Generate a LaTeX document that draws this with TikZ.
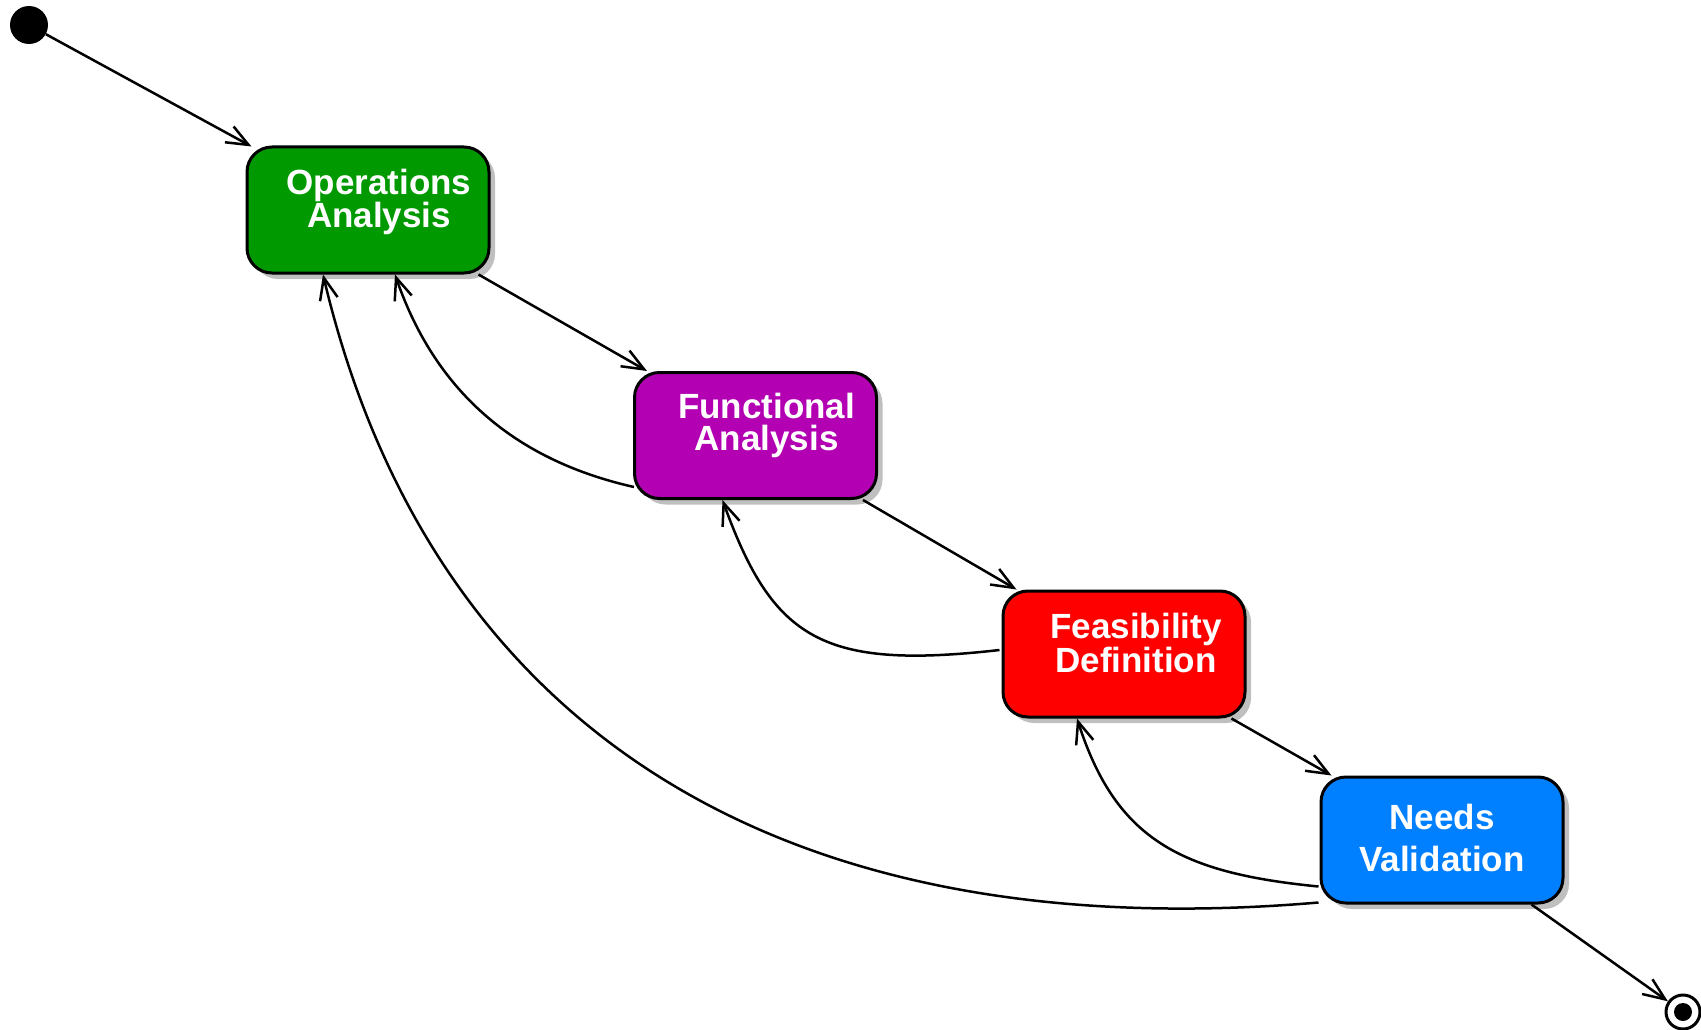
\documentclass[tikz,border=0pt]{standalone}
\usepackage{fontspec}
\setmainfont{Liberation Sans}
\usetikzlibrary{arrows.meta,shadows}

\definecolor{opgreen}{HTML}{009900}
\definecolor{fnpurple}{HTML}{B200B2}
\definecolor{fsred}{HTML}{FF0000}
\definecolor{nvblue}{HTML}{0080FF}

\begin{document}
\begin{tikzpicture}[x=1pt,y=-1pt,
  phase/.style={draw=black, line width=3pt, rounded corners=25pt,
    minimum width=242pt, minimum height=126pt, inner sep=0pt,
    drop shadow={shadow xshift=6pt, shadow yshift=-6pt, fill=black!25, opacity=1}},
  phasetext/.style={text=white, align=center, inner sep=0pt,
    font=\fontsize{35}{32}\selectfont\bfseries},
  flow/.style={line width=2.5pt, -{Straight Barb[length=22pt,width=18pt,line width=2.5pt]}},
  startdot/.style={circle, fill=black, minimum size=38pt, inner sep=0pt},
  enddot/.style={circle, draw=black, fill=white, line width=3pt, minimum size=34pt, inner sep=0pt,
    path picture={\fill[black] (path picture bounding box.center) circle (9pt);}}
]
\useasboundingbox (0,0) rectangle (1701,1030);

% initial and final states
\node[startdot] (s) at (29,25) {};
\node[enddot] (e) at (1683,1012) {};

% phases
\node[phase, fill=opgreen]  (b1) at (368,210) {};
\node[phase, fill=fnpurple] (b2) at (755.5,435.5) {};
\node[phase, fill=fsred]    (b3) at (1124,654) {};
\node[phase, fill=nvblue]   (b4) at (1442,840) {};

\node[phasetext] (t1) at ([shift={(11,-8)}]b1.center) {Operations\\Analysis};
\node[phasetext] (t2) at ([shift={(11,-10)}]b2.center) {Functional\\Analysis};
\node[phasetext] (t3) at ([shift={(12,-11)}]b3.center) {Feasibility\\Definition};
\node[phasetext, font=\fontsize{35}{42}\selectfont\bfseries] (t4) at ([shift={(0,-2)}]b4.center) {Needs\\Validation};

% forward flow
\draw[flow] (s) -- ([shift={(6,1)}]b1.north west);
\draw[flow] ([xshift=-12]b1.south east) -- ([xshift=14]b2.north west);
\draw[flow] ([xshift=-15]b2.south east) -- ([xshift=15]b3.north west);
\draw[flow] ([xshift=-15]b3.south east) -- ([xshift=12]b4.north west);
\draw[flow] ([xshift=-33]b4.south east) -- (e);

% feedback loops
\draw[flow] ([shift={(1,-13)}]b2.south west) .. controls (505,458) and (432,382) .. ([xshift=27]b1.south);
\draw[flow] ([shift={(-2,-4)}]b3.west) .. controls (823,670) and (773,640) .. ([xshift=-33]b2.south);
\draw[flow] ([shift={(-1,-18)}]b4.south west) .. controls (1181,873) and (1116,840) .. ([xshift=-47]b3.south);
\draw[flow] ([shift={(-1,-2)}]b4.south west) .. controls (752,951) and (425,705) .. ([xshift=-45]b1.south);
\end{tikzpicture}
\end{document}
